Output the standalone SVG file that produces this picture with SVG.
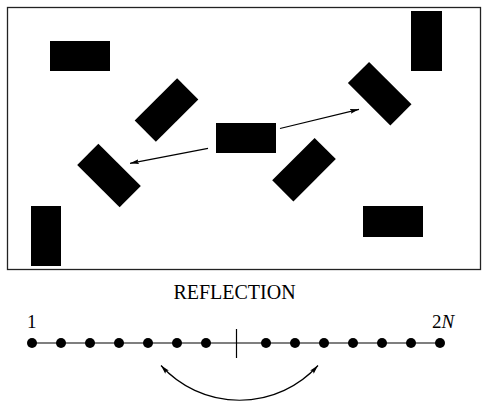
<svg xmlns="http://www.w3.org/2000/svg" width="482" height="404" viewBox="0 0 482 404">
  <defs>
    <style>
      .blk { fill: #000; }
      .conn { stroke: #000; stroke-width: 1.2; fill: none; }
      .lbl { font-family: "Liberation Serif", "Times New Roman", serif; fill: #000; }
    </style>
    <marker id="ah" viewBox="0 0 9 6" refX="9" refY="3" markerWidth="9" markerHeight="6" markerUnits="userSpaceOnUse" orient="auto-start-reverse">
      <path d="M0,0.6 L9,3 L0,5.4 L1.5,3 z" fill="#000"/>
    </marker>
  </defs>
  <rect width="482" height="404" fill="#fff"/>
  <rect id="frame" x="7.5" y="7.5" width="473" height="262" fill="none" stroke="#222" stroke-width="1.3"/>

  <g id="n-topleft"><rect class="blk" x="50" y="41" width="60" height="30"/></g>
  <g id="n-topright"><rect class="blk" x="411" y="11" width="31" height="60"/></g>
  <g id="n-center"><rect class="blk" x="216" y="123" width="60" height="30"/></g>
  <g id="n-bottomleft"><rect class="blk" x="31" y="206" width="30" height="60"/></g>
  <g id="n-bottomright"><rect class="blk" x="363" y="206" width="60" height="31"/></g>
  <g id="n-rot1"><rect class="blk" x="-30" y="-15" width="60" height="30" transform="translate(166.5,110) rotate(-45)"/></g>
  <g id="n-rot2"><rect class="blk" x="-30" y="-15" width="60" height="30" transform="translate(379.7,93.7) rotate(45)"/></g>
  <g id="n-rot3"><rect class="blk" x="-30" y="-15" width="60" height="30" transform="translate(109,175.5) rotate(45)"/></g>
  <g id="n-rot4"><rect class="blk" x="-30" y="-15" width="60" height="30" transform="translate(304,169.7) rotate(-45)"/></g>

  <g id="connectors">
    <line class="conn" x1="280" y1="128.5" x2="359" y2="109.3" marker-end="url(#ah)"/>
    <line class="conn" x1="208" y1="148.3" x2="130" y2="163.3" marker-end="url(#ah)"/>
    <path class="conn" d="M161,365.5 A106,106 0 0 0 318,365.5" marker-start="url(#ah)" marker-end="url(#ah)"/>
  </g>

  <g id="chain">
    <line x1="32" y1="343" x2="440" y2="343" stroke="#000" stroke-width="1.2"/>
    <line x1="236.5" y1="329" x2="236.5" y2="358" stroke="#000" stroke-width="1.2"/>
    <g class="blk">
      <circle cx="32" cy="343" r="5"/>
      <circle cx="61" cy="343" r="5"/>
      <circle cx="90" cy="343" r="5"/>
      <circle cx="119" cy="343" r="5"/>
      <circle cx="148" cy="343" r="5"/>
      <circle cx="177" cy="343" r="5"/>
      <circle cx="206" cy="343" r="5"/>
      <circle cx="266" cy="343" r="5"/>
      <circle cx="295" cy="343" r="5"/>
      <circle cx="324" cy="343" r="5"/>
      <circle cx="353" cy="343" r="5"/>
      <circle cx="382" cy="343" r="5"/>
      <circle cx="411" cy="343" r="5"/>
      <circle cx="440" cy="343" r="5"/>
    </g>
  </g>

  <text class="lbl" x="234.5" y="299" font-size="20" text-anchor="middle">REFLECTION</text>
  <text class="lbl" x="27" y="328" font-size="19">1</text>
  <text class="lbl" x="432" y="328" font-size="19">2<tspan font-style="italic">N</tspan></text>
</svg>
